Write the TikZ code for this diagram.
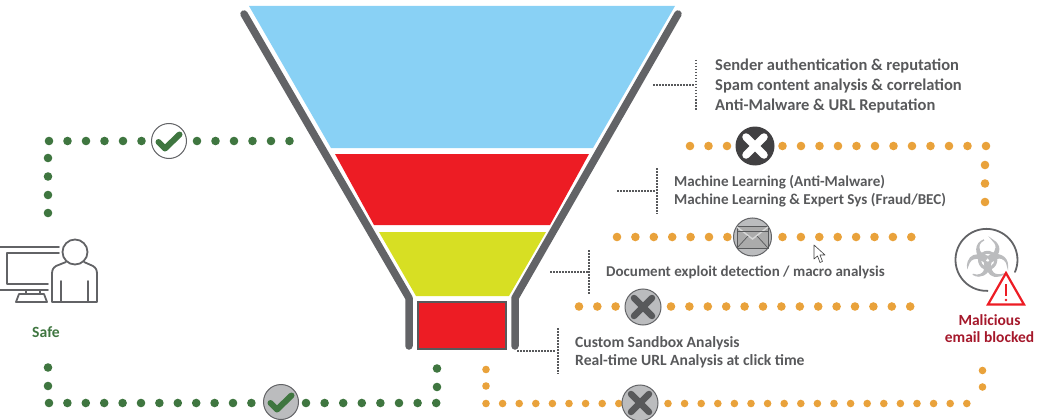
\documentclass[tikz,border=0pt]{standalone}
\usepackage{fontspec}
\setmainfont{Carlito}
\newfontfamily\symfont[FakeBold=2.5]{DejaVu Sans}
\definecolor{skyc}{HTML}{89D1F5}
\definecolor{redc}{HTML}{ED1C24}
\definecolor{yelc}{HTML}{D7DF23}
\definecolor{wallc}{HTML}{626366}
\definecolor{grnc}{HTML}{3F7640}
\definecolor{orac}{HTML}{E9A23B}
\definecolor{txtc}{HTML}{58595B}
\definecolor{icoc}{HTML}{58595B}
\definecolor{disc}{HTML}{BBBCBE}
\definecolor{darkc}{HTML}{414042}
\definecolor{malc}{HTML}{A5182B}
\tikzset{
  x=1pt,y=-1pt,
  wall/.style={draw=wallc,line width=7.5pt,line cap=round,line join=round},
  leader/.style={draw=icoc,line width=1.3pt,dash pattern=on 1.5pt off 1.5pt},
  lab/.style={text=txtc,align=left,anchor=west,inner sep=0pt},
  icon/.style={draw=wallc,line width=1.8pt,line cap=round,line join=round},
  okicon/.pic={\draw[grnc,line width=6pt,line cap=round,line join=round] (-10.5,1)--(-4,7.5)--(10.5,-6.5);},
  xicon/.style={line width=6.5pt,line cap=round},
}
\newcommand{\drow}[5]{\foreach \i in {0,...,#3}{\fill[#5] ({#1+\i*#4},#2) circle (4.3pt);}}
\begin{document}
\begin{tikzpicture}
\clip (0,0) rectangle (1037,420);
% funnel
\fill[skyc] (249,6)--(675,6)--(593,148)--(331,148)--cycle;
\fill[redc] (335,154)--(589,154)--(550,225)--(374,225)--cycle;
\fill[yelc] (379,232)--(546,232)--(509,296)--(416,296)--cycle;
\draw[fill=redc,draw=icoc,line width=1.3pt] (418,302) rectangle (506,349);
\draw[wall] (244,14)--(409,298)--(409,346);
\draw[wall] (678,14)--(515,298)--(515,346);
% leaders
\draw[leader] (653,85)--(695,85);
\draw[leader] (696,60)--(696,110);
\draw[leader] (617,191)--(656,191);
\draw[leader] (657,168)--(657,214);
\draw[leader] (550,272)--(588,272);
\draw[leader] (589,250)--(589,295);
\draw[leader] (517,351)--(556,351);
\draw[leader] (558,328)--(558,374);
% labels
\node[lab,font=\fontsize{16.5}{20}\selectfont\bfseries] (t1) at (715,86) {Sender authentication \& reputation\\Spam content analysis \& correlation\\Anti-Malware \& URL Reputation};
\node[lab,font=\fontsize{15.1}{18}\selectfont\bfseries] (t2) at (674,191) {Machine Learning (Anti-Malware)\\Machine Learning \& Expert Sys (Fraud/BEC)};
\node[lab,font=\fontsize{15}{18}\selectfont\bfseries] (t3) at (606,272) {Document exploit detection / macro analysis};
\node[lab,font=\fontsize{15.6}{18}\selectfont\bfseries] (t4) at (575,352) {Custom Sandbox Analysis\\Real-time URL Analysis at click time};
\node[font=\fontsize{15.6}{18}\selectfont\bfseries,text=grnc,inner sep=0pt] (safe) at (46,332) {Safe};
\node[font=\fontsize{15.5}{17}\selectfont\bfseries,text=malc,align=center,inner sep=0pt] (mal) at (989.5,328.5) {Malicious\\email blocked};
% green dots
\drow{49}{141}{5}{18.5}{grnc}
\drow{197}{141}{5}{18.5}{grnc}
\drow{48}{158}{0}{0}{grnc}\drow{48}{176.5}{0}{0}{grnc}\drow{48}{195}{0}{0}{grnc}\drow{48}{213}{0}{0}{grnc}
\drow{48}{367.5}{0}{0}{grnc}\drow{48}{386}{0}{0}{grnc}
\drow{49}{403}{11}{18.4}{grnc}
\drow{306}{403}{7}{18.6}{grnc}
\drow{437}{368.5}{0}{0}{grnc}\drow{437}{387}{0}{0}{grnc}
% orange dots
\drow{690}{146}{2}{18.5}{orac}
\drow{782.5}{146}{11}{18.5}{orac}
\foreach \y in {165,183.5,202}{\fill[orac] (985,\y) circle (4.3pt);}
\drow{617}{237}{6}{18.4}{orac}
\drow{782.5}{237}{7}{18.4}{orac}
\drow{579}{306.5}{2}{18.3}{orac}
\drow{671}{306.5}{13}{18.4}{orac}
\foreach \i in {0,...,8}{\fill[orac] ({486+\i*16.6},403.5) circle (3.8pt);}
\foreach \i in {0,...,18}{\fill[orac] ({668+\i*16.6},403.5) circle (3.8pt);}
\foreach \p in {(486,369.5),(486,386),(982.5,370.5),(982.5,387)}{\fill[orac] \p circle (3.8pt);}
% check icons
\node[circle,draw=wallc,line width=1pt,fill=white,minimum size=35pt,inner sep=0pt] (ok1) at (169,141) {};
\pic at (ok1.center) {okicon};
\node[circle,draw=wallc,line width=1pt,fill=disc,minimum size=35pt,inner sep=0pt] (ok2) at (281,402) {};
\pic at (ok2.center) {okicon};
% cross icons
\node[circle,fill=darkc,minimum size=39pt,inner sep=0pt] (x1) at (755,146) {};
\draw[white,xicon,line width=7.5pt] (746,137)--(764,155) (764,137)--(746,155);
\node[circle,draw=wallc,line width=1pt,fill=disc,minimum size=36pt,inner sep=0pt] (x2) at (643,307) {};
\draw[icoc,xicon] (634,298)--(652,316) (652,298)--(634,316);
\node[circle,draw=wallc,line width=1pt,fill=disc,minimum size=36pt,inner sep=0pt] (x3) at (640,403) {};
\draw[icoc,xicon] (631,394)--(649,412) (649,394)--(631,412);
% envelope
\node[circle,draw=wallc,line width=1pt,fill=disc,minimum size=38pt,inner sep=0pt] (mail) at (752.5,237) {};
\draw[draw=icoc,fill=black!33,line width=1pt,line join=round] (737,226) rectangle (768,248);
\draw[draw=white!85!black,line width=1.4pt] (737,227)--(752.5,239)--(768,227);
\draw[draw=icoc,line width=.7pt] (737,248)--(748,236) (768,248)--(757,236);
\draw[draw=icoc,line width=.7pt] (737,231)--(768,231);
% person with monitor
\draw[icon] (0,246.7)--(59,246.7) (59,253)--(7,253)--(7,284)--(48,284) (48,290)--(0,290);
\draw[icon] (26,290)--(26,294) (40,290)--(40,294) (19,294)--(44,294)--(47,302)--(16,302)--cycle;
\draw[icon] (75,252) circle (12.5pt);
\draw[icon] (66,262)--(56,266) .. controls (53,268) and (52,270) .. (52,274)--(52,302)--(97,302)--(97,274) .. controls (97,270) and (96,268) .. (93,266)--(84,262);
\draw[icon] (61,281)--(61,302) (88,281)--(88,302);
% biohazard
\node[font=\symfont\fontsize{50}{50}\selectfont,text=disc,inner sep=0pt] (bio) at (987.5,258) {☣};
\draw[wallc,line width=1.8pt,line cap=round] (1015,272) arc[start angle=-23,end angle=272,radius=31pt];
\draw[fill=white,draw=redc,line width=2.2pt,line join=miter] (1006,273)--(1024,304.5)--(988,304.5)--cycle;
\draw[redc,line width=2.4pt] (1006,284)--(1006,296);
\fill[redc] (1006,300) circle (1.4pt);
% pointer
\draw[black!75,fill=white,line width=.6pt,line join=round] (814,245)--(814,259)--(817.5,256)--(820,262.5)--(822.5,261.5)--(820,255)--(825,255)--cycle;
\end{tikzpicture}
\end{document}
